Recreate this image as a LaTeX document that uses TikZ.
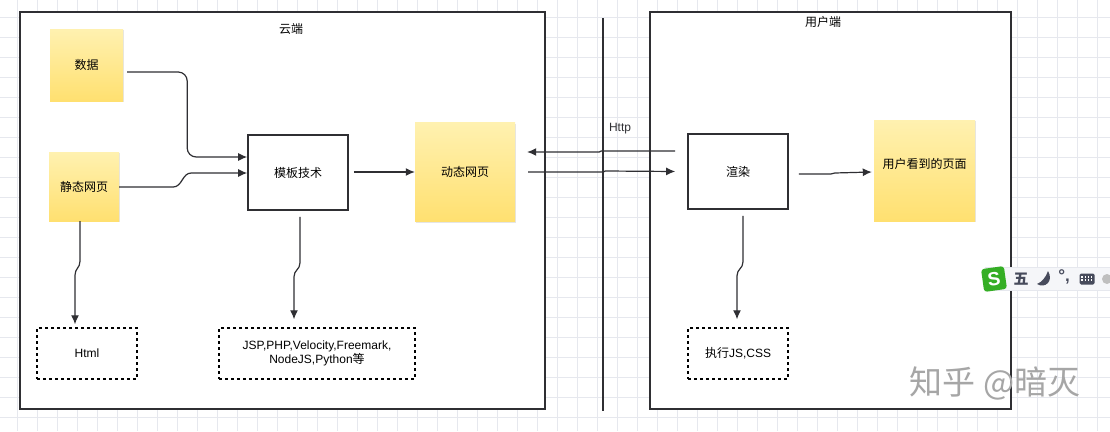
\documentclass[tikz,border=0pt]{standalone}
\usepackage{fontspec}
\usepackage{xcolor}
\usetikzlibrary{arrows.meta,shadows}
\setmainfont{Liberation Sans}
\newfontfamily\cjk{Noto Sans CJK SC}
\definecolor{linedark}{HTML}{2F2F33}
\definecolor{gridline}{HTML}{E6E8EE}
\definecolor{noteTop}{HTML}{FFF1B0}
\definecolor{noteBottom}{HTML}{FFE070}
\definecolor{imegreen}{HTML}{35AE25}
\definecolor{imegrey}{HTML}{474B5C}
\definecolor{imebarfill}{HTML}{F5F6F9}
\tikzset{
  areabox/.style={rectangle, draw=linedark, line width=2pt, fill=white, inner sep=0pt},
  notebox/.style={rectangle, top color=noteTop, bottom color=noteBottom, inner sep=0pt, align=center,
    drop shadow={opacity=0.2, shadow xshift=1pt, shadow yshift=-1pt}, font=\fontsize{12}{14}\selectfont\cjk},
  techbox/.style={rectangle, draw=linedark, line width=1.6pt, fill=white, minimum width=100pt, minimum height=75pt, inner sep=0pt, font=\fontsize{12}{14}\selectfont\cjk},
  dashbox/.style={rectangle, draw=black, line width=1.5pt, dashed, fill=white, minimum height=51pt, inner sep=0pt, align=center, font=\fontsize{12}{14}\selectfont},
  plainlabel/.style={inner sep=0pt, font=\fontsize{12}{14}\selectfont\cjk},
  conn/.style={draw=linedark, line width=1.2pt, -{Latex[length=9pt,width=8pt]}}
}
\begin{document}
\begin{tikzpicture}[x=1pt,y=-1pt]
\useasboundingbox (0,0) rectangle (1110,431);
\fill[white] (0,0) rectangle (1110,431);
\foreach \gx in {17,37,...,1110} {
  \draw[gridline, line width=0.7pt] (\gx,0) -- (\gx,431);
}
\foreach \gy in {17,37,...,431} {
  \draw[gridline, line width=0.7pt] (0,\gy) -- (1110,\gy);
}

\node[areabox, minimum width=525pt, minimum height=397pt] (cloud) at (282.5,210.5) {};
\node[areabox, minimum width=361pt, minimum height=397pt] (client) at (830.5,210.5) {};
\node[plainlabel] (cloudtitle) at (291,29) {云端};
\node[plainlabel] (clienttitle) at (823,22) {用户端};
\draw[linedark, line width=2pt] (603,18) -- (603,411);

\node[notebox, minimum width=73pt, minimum height=72pt] (data) at (86.5,65) {数据};
\node[notebox, minimum width=70pt, minimum height=69pt] (static) at (84,186.5) {静态网页};
\node[techbox] (template) at (298,172.5) {模板技术};
\node[notebox, minimum width=100pt, minimum height=99pt] (dynamic) at (465,172) {动态网页};
\node[techbox] (render) at (738,171.5) {渲染};
\node[notebox, minimum width=101pt, minimum height=101pt] (page) at (924.5,170.5) {\raisebox{14pt}{用户看到的页面}};

\node[dashbox, minimum width=100pt] (html) at (87,353.5) {Html};
\node[dashbox, minimum width=196pt] (jsp) at (317,353.5) {JSP,PHP,Velocity,Freemark,\\NodeJS,Python{\cjk 等}};
\node[dashbox, minimum width=100pt] (exec) at (738,353.5) {{\cjk 执行}JS,CSS};
\node[inner sep=0pt, text=linedark, font=\fontsize{12}{14}\selectfont] (http) at (620,129) {Http};

\draw[conn, rounded corners=9pt] ([xshift=4pt,yshift=-7pt]data.east) -- ++(60,0) -- ++(0,85) -- ([yshift=15.5pt]template.west);
\draw[conn] ([yshift=-0.5pt]static.east) -- ++(54,0) .. controls +(9,0) and +(-9,0) .. ++(18,-14) -- ([yshift=-0.5pt]template.west);
\draw[conn] ([xshift=5pt,yshift=0.5pt]template.east) -- (dynamic.west);
\draw[conn] ([xshift=-12pt,yshift=20.5pt]render.west) -- ++(-74,0) -- ++(-2,1) -- ([xshift=12pt,yshift=20pt]dynamic.east);
\draw[conn] ([xshift=13pt]dynamic.east) -- ++(75,0) -- ++(2,-1) -- ([xshift=-12pt]render.west);
\draw[conn] ([xshift=10pt,yshift=-2.5pt]render.east) -- ++(32,0) -- ++(4,-1) -- ([xshift=-2pt,yshift=-1.5pt]page.west);
\draw[conn] ([xshift=-4pt]static.south) -- ++(0,40) .. controls +(0,7) and +(0,-7) .. ++(-5,14) -- ([xshift=-12pt,yshift=3pt]html.north);
\draw[conn] ([xshift=2pt,yshift=-6pt]template.south) -- ++(0,46) .. controls +(0,7) and +(0,-7) .. ++(-6,14) -- ([xshift=-23pt,yshift=8pt]jsp.north);
\draw[conn] ([xshift=5pt,yshift=-6pt]render.south) -- ++(0,46) .. controls +(0,7) and +(0,-7) .. ++(-6,14) -- ([xshift=-1pt,yshift=8pt]exec.north);

\node[rectangle, fill=imebarfill, draw=gridline, minimum width=125pt, minimum height=23pt, inner sep=0pt] (imebar) at (1048,278.5) {};
\node[rectangle, rounded corners=3pt, fill=imegreen, text=white, minimum width=23pt, minimum height=23pt, inner sep=0pt, rotate=8, font=\fontsize{19}{20}\selectfont\bfseries] (imelogo) at (994,279) {S};
\node[inner sep=0pt, text=imegrey, font=\fontsize{15}{16}\selectfont\cjk\bfseries] (imemode) at (1021,279.5) {五};
\fill[imegrey] (1048,271) .. controls (1054,281) and (1045,289) .. (1037,284) .. controls (1042,282) and (1046,277) .. cycle;
\node[inner sep=0pt, text=imegrey, font=\fontsize{17}{18}\selectfont\bfseries] (imepunct) at (1064,277) {°,};
\node[rectangle, rounded corners=1.5pt, fill=imegrey, minimum width=15pt, minimum height=11pt, inner sep=0pt] (imekeys) at (1087,279) {};
\draw[white, line width=1.3pt, dotted] (imekeys.west) ++(2,-2) -- ++(11,0);
\draw[white, line width=1.3pt, dotted] (imekeys.west) ++(2,1) -- ++(11,0);
\fill[gray!50] (1107,279) circle (5pt);

\node[inner sep=0pt, text=gray!70, font=\fontsize{33}{36}\selectfont\cjk] (mark) at (995,383) {知乎 @暗灭};
\end{tikzpicture}
\end{document}
